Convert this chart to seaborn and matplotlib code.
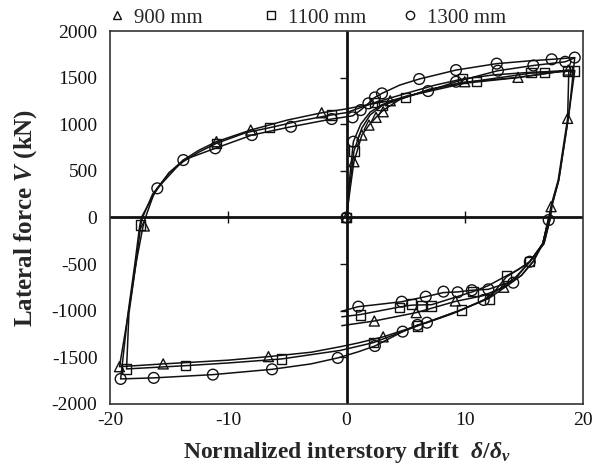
import numpy as np
import pandas as pd
import matplotlib
matplotlib.use("Agg")
import matplotlib.pyplot as plt
from matplotlib.lines import Line2D
import seaborn as sns

# ---------------- data ----------------
specimens = ["900 mm", "1100 mm", "1300 mm"]

# 900 mm : curve paths
t_path1_x = [0, 0.3, 0.63, 1.3, 1.9, 2.5, 3.1, 4.5, 7.0, 10.0, 14.5, 18.8, 18.7, 17.9, 17.35, 17.1, 16.6, 15.8, 14.8, 13.3, 11.5, 9.2, 5.9, 2.35, -0.4]
t_path1_y = [0, 300, 598, 884, 991, 1074, 1150, 1265, 1375, 1450, 1503, 1578, 1063, 400, 152, 0, -280, -470, -620, -748, -840, -900, -1020, -1110, -1160]
t_path2_x = [17.1, 16.6, 15.8, 14.8, 13.5, 12.0, 9.7, 6.0, 3.1, 1.0, -0.5, -3.0, -6.6, -10.0, -15.5, -19.2, -18.45, -17.8, -17.2, -17.0, -16.3, -15.0, -13.8, -12.5, -11.0, -8.1, -5.0, -2.1, 0.0, 2.0, 3.7, 6.0, 10.0, 14.5, 18.8]
t_path2_y = [0, -280, -470, -620, -740, -870, -990, -1160, -1280, -1345, -1385, -1445, -1492, -1530, -1570, -1600, -1030, -490, -91, 0, 250, 480, 616, 720, 813, 938, 1045, 1123, 1165, 1215, 1252, 1325, 1440, 1500, 1580]
# 900 mm : markers
t_mark_x = [0, 0.63, 1.3, 1.9, 2.5, 3.1, 3.7, 10.0, 14.5, 18.75, 18.7, 17.3, 2.35, 5.9, 9.2, 13.3, 3.1, -6.6, -15.5, -19.2, -17.1, -11.0, -8.1, -2.1]
t_mark_y = [0, 598, 884, 991, 1074, 1134, 1252, 1456, 1503, 1581, 1063, 116, -1110, -1020, -895, -748, -1280, -1492, -1570, -1600, -91, 813, 938, 1123]

# 1100 mm : curve paths
s_path1_x = [0, 0.3, 0.63, 1.3, 2.0, 3.0, 5.0, 7.0, 9.5, 11.0, 13.5, 15.6, 18.7, 19.3, 18.75, 17.95, 17.4, 17.25, 16.7, 15.5, 14.5, 13.5, 12.0, 10.7, 7.2, 5.5, 4.47, 1.2, -0.4]
s_path1_y = [0, 360, 713, 960, 1100, 1199, 1290, 1370, 1440, 1465, 1510, 1548, 1568, 1572, 1063, 400, 140, 0, -280, -474, -560, -627, -730, -795, -935, -940, -960, -1040, -1065]
s_path2_x = [17.25, 16.7, 15.5, 14.5, 13.5, 12.1, 9.7, 6.0, 2.27, -0.5, -5.5, -10.0, -13.6, -18.6, -18.4, -17.8, -17.4, -17.25, -16.4, -15.0, -13.8, -12.5, -11.0, -8.5, -6.5, -4.0, -1.3, 0.0, 2.35, 5.0, 7.5, 9.8, 12.5, 15.7, 16.8, 18.8, 19.3]
s_path2_y = [0, -280, -474, -560, -640, -860, -992, -1163, -1342, -1425, -1517, -1560, -1589, -1624, -1030, -490, -80, 0, 250, 480, 600, 700, 795, 910, 963, 1035, 1099, 1125, 1231, 1330, 1420, 1485, 1530, 1558, 1563, 1578, 1578]
# 1100 mm : markers
s_mark_x = [0, 0.63, 3.0, 2.35, 5.0, 9.8, 11.0, 15.6, 16.75, 18.7, 19.3, 15.5, 13.5, 10.7, 7.2, 6.36, 5.5, 4.47, 1.2, 12.1, 9.7, 6.0, 2.27, -5.5, -13.6, -18.6, -17.4, -11.0, -6.5, -1.3]
s_mark_y = [0, 713, 1199, 1231, 1284, 1492, 1456, 1555, 1557, 1572, 1572, -474, -627, -795, -949, -949, -927, -963, -1045, -877, -992, -1163, -1342, -1517, -1589, -1624, -80, 795, 963, 1099]

# 1300 mm : curve paths
c_path1_x = [0, 0.25, 0.58, 1.2, 2.0, 3.0, 5.0, 6.9, 9.26, 12.8, 15.8, 18.5, 19.3, 18.8, 17.95, 17.35, 17.1, 16.6, 15.5, 14.1, 12.0, 10.6, 9.4, 8.2, 6.7, 4.67, 2.5, 1.0, -0.4]
c_path1_y = [0, 400, 813, 1000, 1130, 1210, 1300, 1356, 1456, 1574, 1630, 1670, 1713, 1100, 400, 120, -27, -280, -474, -680, -770, -780, -798, -805, -849, -903, -935, -956, -1005]
c_path2_x = [17.1, 16.6, 15.5, 14.3, 13.0, 11.6, 9.0, 6.8, 6.0, 4.75, 2.4, 1.0, -0.74, -3.0, -6.3, -11.3, -16.3, -19.1, -18.5, -17.9, -17.5, -17.35, -16.0, -13.8, -11.1, -8.0, -4.7, -1.25, 0.52, 1.2, 1.85, 2.4, 3.0, 4.5, 6.15, 9.26, 12.7, 15.5, 17.35, 19.3]
c_path2_y = [-27, -280, -474, -640, -760, -884, -1030, -1128, -1152, -1224, -1378, -1440, -1506, -1570, -1628, -1685, -1720, -1731, -1050, -500, -100, 0, 313, 616, 742, 884, 973, 1056, 1090, 1152, 1224, 1288, 1331, 1420, 1485, 1581, 1650, 1680, 1696, 1715]
# 1300 mm : markers
c_mark_x = [0, 0.58, 0.52, 1.2, 1.85, 2.4, 3.0, 6.15, 9.26, 12.7, 17.35, 19.3, 6.9, 9.26, 12.8, 15.8, 18.5, 17.1, 15.5, 14.1, 12.0, 10.6, 9.4, 8.2, 6.7, 4.67, 1.0, 11.6, 6.8, 6.0, 4.75, 2.4, -0.74, -6.3, -11.3, -16.3, -19.1, -16.0, -13.8, -11.1, -8.0, -4.7, -1.25]
c_mark_y = [0, 813, 1074, 1152, 1224, 1288, 1331, 1485, 1581, 1650, 1696, 1715, 1356, 1456, 1574, 1630, 1670, -27, -474, -699, -770, -780, -802, -795, -849, -903, -956, -884, -1128, -1152, -1224, -1378, -1506, -1628, -1685, -1720, -1731, 313, 616, 742, 884, 973, 1056]

x_ticks = [-20, -10, 0, 10, 20]
y_ticks = [-2000, -1500, -1000, -500, 0, 500, 1000, 1500, 2000]

# ---------------- build tables ----------------
paths = {
    "900 mm": [(t_path1_x, t_path1_y), (t_path2_x, t_path2_y)],
    "1100 mm": [(s_path1_x, s_path1_y), (s_path2_x, s_path2_y)],
    "1300 mm": [(c_path1_x, c_path1_y), (c_path2_x, c_path2_y)],
}
marks = {
    "900 mm": (t_mark_x, t_mark_y),
    "1100 mm": (s_mark_x, s_mark_y),
    "1300 mm": (c_mark_x, c_mark_y),
}
rows = []
for sp in specimens:
    for k, (px, py) in enumerate(paths[sp]):
        for i, (a, b) in enumerate(zip(px, py)):
            rows.append({"specimen": sp, "seg": f"{sp}-{k}", "order": i, "x": a, "y": b})
lines_df = pd.DataFrame(rows)
mk_df = pd.concat([pd.DataFrame({"specimen": sp, "x": marks[sp][0], "y": marks[sp][1]}) for sp in specimens],
                  ignore_index=True)

marker_map = {"900 mm": "^", "1100 mm": "s", "1300 mm": "o"}
size_map = {"900 mm": 52, "1100 mm": 44, "1300 mm": 60}

# ---------------- style ----------------
sns.set_theme(style="white")
plt.rcParams["font.family"] = ["Liberation Serif", "DejaVu Serif"]
plt.rcParams["mathtext.fontset"] = "custom"
plt.rcParams["mathtext.rm"] = "Liberation Serif:bold"
plt.rcParams["mathtext.it"] = "Liberation Serif:italic:bold"
plt.rcParams["mathtext.bf"] = "Liberation Serif:bold"

fig = plt.figure(figsize=(6.12, 4.69), dpi=100)
ax = fig.add_axes([110 / 612, 1 - 404 / 469, 473 / 612, 373 / 469])

ax.axhline(0, color="#111111", lw=2.0, zorder=1)
ax.axvline(0, color="#111111", lw=2.0, zorder=1)

sns.lineplot(data=lines_df, x="x", y="y", units="seg", estimator=None, sort=False,
             color="#111111", linewidth=1.1, ax=ax, legend=False, zorder=2)

for sp in specimens:
    d = mk_df[mk_df["specimen"] == sp]
    sns.scatterplot(data=d, x="x", y="y", marker=marker_map[sp], s=size_map[sp],
                    facecolor="none", edgecolor="#111111", linewidth=1.0, ax=ax,
                    legend=False, zorder=3)

ax.set_xlim(-20, 20)
ax.set_ylim(-2000, 2000)
ax.set_xticks(x_ticks)
ax.set_yticks(y_ticks)
ax.set_xticklabels([str(v) for v in x_ticks])
ax.set_yticklabels([str(v) for v in y_ticks])
ax.tick_params(length=0, labelsize=14, colors="#111111")
ax.tick_params(axis="y", pad=9)
ax.tick_params(axis="x", pad=6)
for s in ax.spines.values():
    s.set_visible(True)
    s.set_color("#333333")
    s.set_linewidth(1.2)

# tick marks on the zero axes
inner_x = [v for v in x_ticks if v not in (-20, 0, 20)]
inner_y = [v for v in y_ticks if v not in (-2000, 0, 2000)]
ax.plot(inner_x, [0] * len(inner_x), ls="none", marker="|", ms=9, mew=1.0, color="#111111", zorder=1)
ax.plot([0] * len(inner_y), inner_y, ls="none", marker=0, ms=5, mew=1.0, color="#111111", zorder=1)

ax.set_xlabel(r"Normalized interstory drift  $\delta/\delta_v$", fontsize=17, fontweight="bold", labelpad=8)
ax.set_ylabel(r"Lateral force $V$ (kN)", fontsize=18, fontweight="bold", labelpad=9)

# legend (three entries across the top)
leg_x = {"900 mm": 106.5 / 612, "1100 mm": 260.5 / 612, "1300 mm": 399.5 / 612}
for sp in specimens:
    h = Line2D([], [], ls="none", marker=marker_map[sp], mfc="none", mec="#111111", ms=6, mew=1.0)
    fig.legend([h], [sp], loc="center left", bbox_to_anchor=(leg_x[sp], 1 - 18 / 469),
               frameon=False, fontsize=15, handlelength=1.0, handletextpad=0.3, borderpad=0,
               borderaxespad=0)

fig.savefig("out.png", dpi=100)
